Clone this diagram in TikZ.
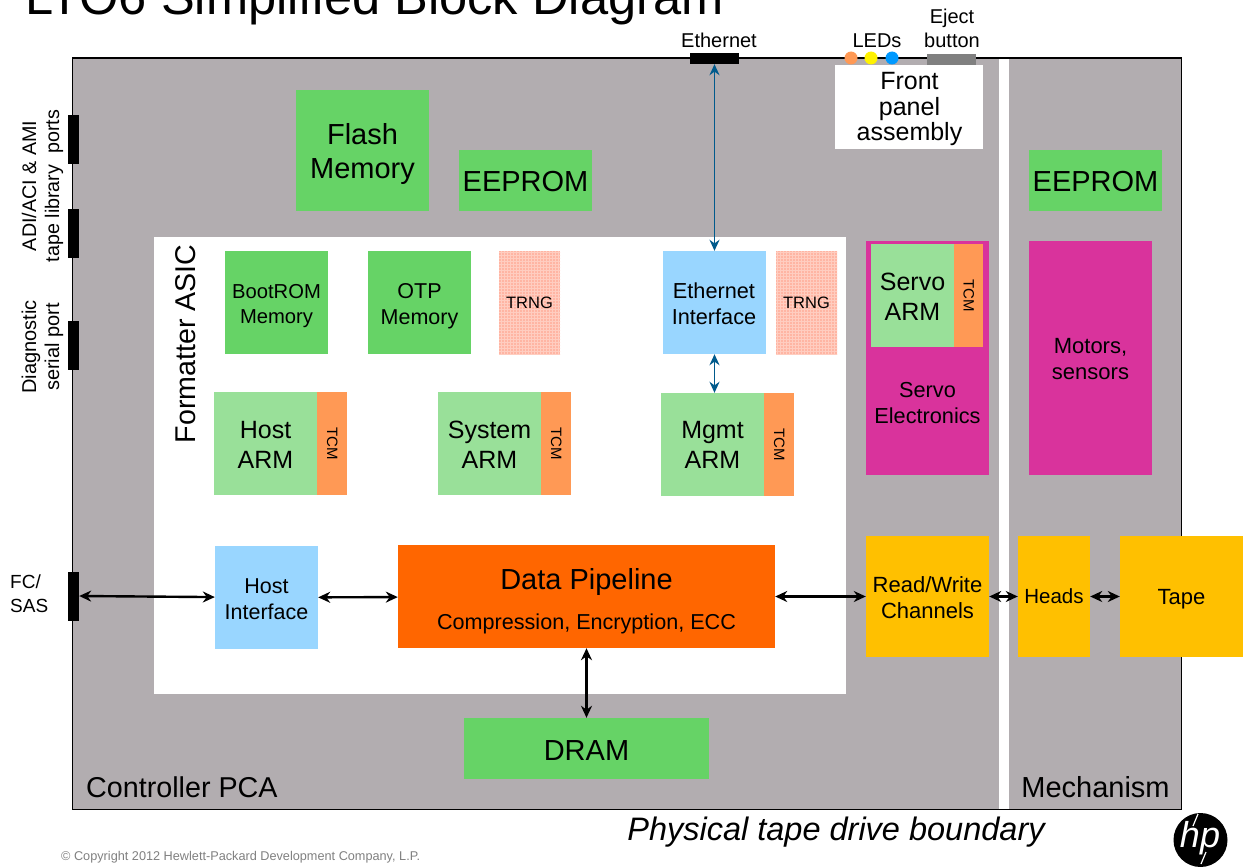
\documentclass[tikz,border=0pt]{standalone}
\usepackage{fontspec}
\setmainfont{Liberation Sans}
\usetikzlibrary{patterns,arrows.meta}
\definecolor{pcagray}{HTML}{B2ADB0}
\definecolor{memgreen}{HTML}{66D366}
\definecolor{armgreen}{HTML}{99E099}
\definecolor{tcmorange}{HTML}{FF9955}
\definecolor{ifblue}{HTML}{99D6FF}
\definecolor{ledblue}{HTML}{0099FF}
\definecolor{servopink}{HTML}{D9339C}
\definecolor{chanyellow}{HTML}{FFC000}
\definecolor{pipeorange}{HTML}{FF6600}
\definecolor{trngpink}{HTML}{FFB5A3}
\definecolor{trnglines}{HTML}{FFCDC0}
\definecolor{ethblue}{HTML}{005A8C}
\tikzset{
    fsize/.style 2 args={font=\fontsize{#1}{#2}\selectfont},
    block/.style={inner sep=0pt, align=center, minimum width=#1},
    tag/.style={inner sep=0pt, align=center},
    port/.style={fill=black, inner sep=0pt, minimum width=11, minimum height=49},
    bothway/.style={{Stealth[length=12, width=11]}-{Stealth[length=12, width=11]}, line width=2.4},
    ethway/.style={{Stealth[length=11, width=10]}-{Stealth[length=11, width=10]}, line width=1.8, ethblue},
}
\begin{document}
\begin{tikzpicture}[x=1pt, y=-1pt]
    \useasboundingbox (0,0) rectangle (1243,867);
    \node[anchor=base west, inner sep=0pt, fsize={50.6}{60}] (title) at (25,14.5) {LTO6 Simplified Block Diagram};

    % boards
    \filldraw[fill=pcagray, draw=black, line width=1.2] (72.5,58) rectangle (1181.5,809.5);
    \fill[white] (999,58.6) rectangle (1009,809);
    \fill[white] (154,237) rectangle (846,694);

    % ports on the edge
    \foreach \name/\y in {libport/139.5, libporttwo/233, diagport/345, fcport/596}
        \node[port] (\name) at (73.5,\y) {};
    \node[port, minimum width=49, minimum height=11] (ethport) at (714.5,58.5) {};
    \node[fill=gray, inner sep=0pt, minimum width=49, minimum height=11] (ejectbtn) at (951.5,59.5) {};
    \foreach \name/\x/\col in {ledone/851/tcmorange, ledtwo/871/yellow, ledthree/892/ledblue}
        \node[circle, fill=\col, inner sep=0pt, minimum size=13] (\name) at (\x,58) {};

    % outside labels
    \node[tag, fsize={19.7}{23}, rotate=90] (liblabel) at (42.5,186) {ADI/ACI \& AMI\\tape library\ \ ports};
    \node[tag, fsize={20}{23}, rotate=90] (diaglabel) at (42.5,347) {Diagnostic\\serial port};
    \node[anchor=west, align=left, inner sep=0pt, fsize={19}{24}] (fclabel) at (10,594) {FC/\\SAS};
    \node[tag, fsize={20}{23}] (ethlabel) at (719,40) {Ethernet};
    \node[tag, fsize={20}{23}] (ledlabel) at (877,41) {LEDs};
    \node[tag, fsize={20}{24}] (ejectlabel) at (952,28) {Eject\\button};

    % memories
    \node[block=133, fill=memgreen, minimum height=121] (flash) at (362.5,150.5) {};
    \node[tag, fsize={29}{34}] (flashlabel) at (362.5,154.5) {Flash\\Memory};
    \node[block=133, fill=memgreen, minimum height=61, fsize={29}{34}, text height=22, text depth=0] (eeprom) at (525.5,180.5) {EEPROM};
    \node[block=133, fill=memgreen, minimum height=61, fsize={29}{34}, text height=22, text depth=0] (eepromtwo) at (1095.5,180.5) {EEPROM};
    \node[block=148, fill=white, minimum height=84] (frontpanel) at (909,107) {};
    \node[tag, fsize={25}{25.5}] (frontlabel) at (909.5,109) {Front\\panel\\assembly};

    % inside the asic
    \node[tag, rotate=90, fsize={28.6}{34}] (asiclabel) at (186,344) {Formatter ASIC};
    \node[block=103, fill=memgreen, minimum height=103] (bootrom) at (276.5,302.5) {};
    \node[tag, fsize={20.2}{25}] (bootlabel) at (276.5,306.5) {BootROM\\Memory};
    \node[block=103, fill=memgreen, minimum height=103] (otp) at (419.5,302.5) {};
    \node[tag, fsize={21.5}{26}] (otplabel) at (419.5,306.5) {OTP\\Memory};
    \node[block=103, fill=ifblue, minimum height=103] (ethif) at (714.5,302.5) {};
    \node[tag, fsize={21.7}{26}] (ethiflabel) at (714,303.5) {Ethernet\\Interface};
    \foreach \name/\x in {trngone/529.5, trngtwo/806.5}
        \node[block=61, fill=trngpink, minimum height=103, fsize={16.5}{20},
              postaction={pattern=grid, pattern color=trnglines}] (\name) at (\x,302.5) {TRNG};

    \foreach \name/\lab/\x/\y in {host/Host/265.5/443.5, system/System/489.5/443.5, mgmt/Mgmt/712.5/444.5} {
        \node[block=103, fill=armgreen, minimum height=103] (\name) at (\x,\y) {};
        \node[tag, fsize={25}{30}] (\name label) at (\x,444.7) {\lab\\ARM};
        \node[inner sep=0pt, fill=tcmorange, minimum width=30, minimum height=103, anchor=west] (\name tcm) at (\name.east) {};
        \node[tag, rotate=-90, fsize={15}{18}] (\name tcmlabel) at (\name tcm) {TCM};
    }

    \node[block=103, fill=ifblue, minimum height=103] (hostif) at (266.5,597.5) {};
    \node[tag, fsize={21.5}{26}] (hostiflabel) at (266.5,599.5) {Host\\Interface};
    \node[block=377, fill=pipeorange, minimum height=103] (pipe) at (586.5,596.5) {};
    \node[tag, fsize={29}{34}] (pipetitle) at (586.5,582) {Data Pipeline};
    \node[tag, fsize={21.6}{26}] (pipesub) at (586.5,624) {Compression, Encryption, ECC};
    \node[block=245, fill=memgreen, minimum height=61, fsize={29}{34}, text height=24, text depth=0] (dram) at (586.5,748.5) {DRAM};

    % servo side
    \node[block=123, fill=servopink, minimum height=234] (servoel) at (927.5,358) {};
    \node[tag, fsize={21.7}{26}] (servolabel) at (927.5,403) {Servo\\Electronics};
    \node[block=83, fill=armgreen, minimum height=103] (servoarm) at (912.5,295.5) {};
    \node[tag, fsize={25}{30}] (servoarmlabel) at (912.5,296.5) {Servo\\ARM};
    \node[inner sep=0pt, fill=tcmorange, minimum width=29, minimum height=103, anchor=west] (servotcm) at (servoarm.east) {};
    \node[tag, rotate=-90, fsize={15}{18}] (servotcmlabel) at (servotcm) {TCM};
    \node[block=123, fill=servopink, minimum height=234] (motors) at (1090.5,358) {};
    \node[tag, fsize={22}{26}] (motorslabel) at (1090.5,359) {Motors,\\sensors};

    % data path blocks
    \node[block=123, fill=chanyellow, minimum height=121] (rwchan) at (927.5,596.5) {};
    \node[tag, fsize={22}{26}] (rwlabel) at (927.5,597.5) {Read/Write\\Channels};
    \node[block=72, fill=chanyellow, minimum height=121, fsize={20.5}{26}] (heads) at (1054,596.5) {Heads};
    \node[block=123, fill=chanyellow, minimum height=121, fsize={22}{26}, text height=16, text depth=0] (tape) at (1181.5,596.5) {Tape};

    % connectors
    \draw[ethway] (ethport) -- (ethif);
    \draw[ethway] (ethif) -- (ethif |- mgmt.north);
    \draw[bothway] (fcport.east) -- (hostif);
    \draw[bothway] (hostif) -- (pipe);
    \draw[bothway] (pipe) -- (rwchan);
    \draw[bothway] (rwchan) -- (heads);
    \draw[bothway] (heads) -- (tape);
    \draw[bothway] (pipe) -- (dram);

    % bottom strip
    \node[anchor=base west, inner sep=0pt, fsize={28.7}{34}] (pcalabel) at (86,797) {Controller PCA};
    \node[tag, anchor=base, fsize={29}{34}] (mechlabel) at (1095.5,797) {Mechanism};
    \node[tag, anchor=base, fsize={32.5}{38}] (boundary) at (836,840) {\itshape Physical tape drive boundary};
    \node[anchor=base west, inner sep=0pt, fsize={12.7}{15}, text=gray] (copyright) at (61,860) {© Copyright 2012 Hewlett-Packard Development Company, L.P.};

    % logo
    \node[circle, fill=black, inner sep=0pt, minimum size=54] (hplogo) at (1200.5,840) {};
    \node[tag, text=white, fsize={36}{36}] (hptext) at (1200,838) {\itshape hp};
    \draw[white, line width=1.2] (1198,814) -- (1193,826);
    \draw[white, line width=1.2] (1206,852) -- (1201,864);
\end{tikzpicture}
\end{document}
